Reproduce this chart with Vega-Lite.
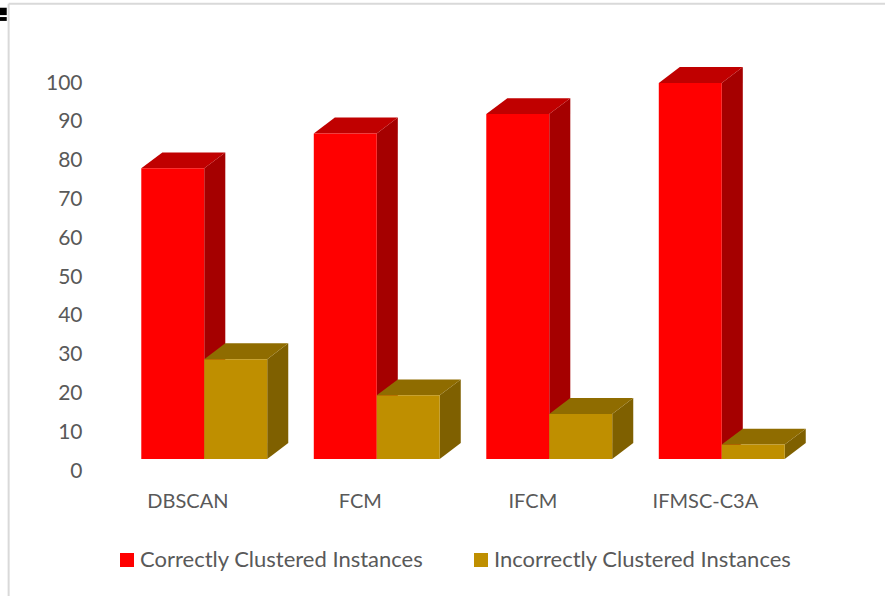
{
  "$schema": "https://vega.github.io/schema/vega-lite/v6.json",
  "width": 690,
  "height": 388,
  "padding": {"left": 118, "top": 83, "right": 77, "bottom": 125},
  "autosize": {"type": "none"},
  "background": "white",
  "config": {
    "view": {"stroke": null},
    "font": "Lato",
    "axisY": {
      "labelOverlap": false,
      "labelBound": false,
      "labelFlush": false,
      "domain": false,
      "ticks": false,
      "grid": false,
      "labelFontSize": 21,
      "labelColor": "#595959",
      "labelPadding": 36
    }
  },
  "data": {
    "values": [
      {"method": "DBSCAN", "series": "Correctly Clustered Instances", "value": 78},
      {"method": "DBSCAN", "series": "Incorrectly Clustered Instances", "value": 28.8},
      {"method": "FCM", "series": "Correctly Clustered Instances", "value": 87},
      {"method": "FCM", "series": "Incorrectly Clustered Instances", "value": 19.5},
      {"method": "IFCM", "series": "Correctly Clustered Instances", "value": 92},
      {"method": "IFCM", "series": "Incorrectly Clustered Instances", "value": 14.7},
      {"method": "IFMSC-C3A", "series": "Correctly Clustered Instances", "value": 100},
      {"method": "IFMSC-C3A", "series": "Incorrectly Clustered Instances", "value": 6.8}
    ]
  },
  "transform": [
    {"calculate": "indexof(['DBSCAN','FCM','IFCM','IFMSC-C3A'], datum.method)", "as": "g"},
    {"calculate": "datum.series === 'Correctly Clustered Instances'", "as": "isCorrect"},
    {"calculate": "datum.isCorrect ? datum.g - 0.365 : datum.g", "as": "left"},
    {"calculate": "datum.left + 0.365", "as": "right"},
    {"calculate": "3.1", "as": "floor"},
    {"calculate": "datum.method + datum.series", "as": "barId"}
  ],
  "layer": [
    {
      "data": {"values": [{}]},
      "mark": {"type": "rule", "color": "#d9d9d9", "strokeWidth": 2},
      "encoding": {
        "x": {"datum": -1.134, "type": "quantitative", "scale": {"domain": [-0.5, 3.5], "nice": false, "zero": false}, "axis": null},
        "x2": {"datum": 3.95},
        "y": {"datum": 120.4, "type": "quantitative", "scale": {"domain": [0, 100], "nice": false}, "axis": {"title": null, "values": [0, 10, 20, 30, 40, 50, 60, 70, 80, 90, 100]}}
      }
    },
    {
      "data": {"values": [{}]},
      "mark": {"type": "rule", "color": "#d9d9d9", "strokeWidth": 2},
      "encoding": {
        "x": {"datum": -1.134, "type": "quantitative", "scale": {"domain": [-0.5, 3.5], "nice": false, "zero": false}, "axis": null},
        "y": {"datum": 120.4, "type": "quantitative", "scale": {"domain": [0, 100], "nice": false}, "axis": {"title": null, "values": [0, 10, 20, 30, 40, 50, 60, 70, 80, 90, 100]}},
        "y2": {"datum": -32.3}
      }
    },
    {
      "data": {"values": [{"top": 119.4, "bottom": 117.5}, {"top": 117, "bottom": 116}]},
      "mark": {"type": "rect", "color": "black"},
      "encoding": {
        "x": {"datum": -1.185, "type": "quantitative", "scale": {"domain": [-0.5, 3.5], "nice": false, "zero": false}, "axis": null},
        "x2": {"datum": -1.145},
        "y": {"field": "top", "type": "quantitative", "scale": {"domain": [0, 100], "nice": false}, "axis": {"title": null, "values": [0, 10, 20, 30, 40, 50, 60, 70, 80, 90, 100]}},
        "y2": {"field": "bottom"}
      }
    },
    {
      "transform": [
        {"calculate": "[0,1,2,3]", "as": "k"},
        {"flatten": ["k"]},
        {"calculate": "[datum.right, datum.right + 0.122, datum.right + 0.122, datum.right][datum.k]", "as": "vx"},
        {"calculate": "[datum.value, datum.value + 4.1, datum.floor + 4.1, datum.floor][datum.k]", "as": "vy"}
      ],
      "mark": {"type": "line", "strokeWidth": 0, "fill": "#a50000"},
      "encoding": {
        "x": {"field": "vx", "type": "quantitative", "scale": {"domain": [-0.5, 3.5], "nice": false, "zero": false}, "axis": null},
        "y": {"field": "vy", "type": "quantitative", "scale": {"domain": [0, 100], "nice": false}, "axis": {"title": null, "values": [0, 10, 20, 30, 40, 50, 60, 70, 80, 90, 100]}},
        "order": {"field": "k", "type": "quantitative"},
        "detail": {"field": "barId"},
        "fill": {"condition": {"test": "datum.isCorrect", "value": "#a50000"}, "value": "#7f6000"}
      }
    },
    {
      "transform": [
        {"calculate": "[0,1,2,3]", "as": "k"},
        {"flatten": ["k"]},
        {"calculate": "[datum.left, datum.right, datum.right + 0.122, datum.left + 0.122][datum.k]", "as": "vx"},
        {"calculate": "[datum.value, datum.value, datum.value + 4.1, datum.value + 4.1][datum.k]", "as": "vy"}
      ],
      "mark": {"type": "line", "strokeWidth": 0, "fill": "#c00000"},
      "encoding": {
        "x": {"field": "vx", "type": "quantitative", "scale": {"domain": [-0.5, 3.5], "nice": false, "zero": false}, "axis": null},
        "y": {"field": "vy", "type": "quantitative", "scale": {"domain": [0, 100], "nice": false}, "axis": {"title": null, "values": [0, 10, 20, 30, 40, 50, 60, 70, 80, 90, 100]}},
        "order": {"field": "k", "type": "quantitative"},
        "detail": {"field": "barId"},
        "fill": {"condition": {"test": "datum.isCorrect", "value": "#c00000"}, "value": "#8f6c00"}
      }
    },
    {
      "mark": {"type": "rect"},
      "encoding": {
        "x": {"field": "left", "type": "quantitative", "scale": {"domain": [-0.5, 3.5], "nice": false, "zero": false}, "axis": null},
        "x2": {"field": "right"},
        "y": {"field": "floor", "type": "quantitative", "scale": {"domain": [0, 100], "nice": false}, "axis": {"title": null, "values": [0, 10, 20, 30, 40, 50, 60, 70, 80, 90, 100]}},
        "y2": {"field": "value"},
        "color": {
          "field": "series",
          "type": "nominal",
          "scale": {
            "domain": ["Correctly Clustered Instances", "Incorrectly Clustered Instances"],
            "range": ["#ff0000", "#bf8f00"]
          },
          "legend": {
            "title": null,
            "orient": "none",
            "direction": "horizontal",
            "columns": 2,
            "legendX": -2,
            "legendY": 466,
            "symbolType": "square",
            "symbolSize": 196,
            "symbolOpacity": 1,
            "symbolStrokeWidth": 0,
            "labelFontSize": 22,
            "labelColor": "#595959",
            "labelOffset": 2,
            "labelLimit": 340,
            "columnPadding": 46
          }
        }
      }
    },
    {
      "transform": [{"filter": "datum.isCorrect"}, {"calculate": "datum.g - 0.095", "as": "labelX"}, {"calculate": "-8", "as": "labelY"}],
      "mark": {"type": "text", "fontSize": 20, "color": "#595959", "align": "center", "baseline": "middle"},
      "encoding": {
        "x": {"field": "labelX", "type": "quantitative", "scale": {"domain": [-0.5, 3.5], "nice": false, "zero": false}, "axis": null},
        "y": {"field": "labelY", "type": "quantitative", "scale": {"domain": [0, 100], "nice": false}, "axis": {"title": null, "values": [0, 10, 20, 30, 40, 50, 60, 70, 80, 90, 100]}},
        "text": {"field": "method"}
      }
    }
  ]
}
